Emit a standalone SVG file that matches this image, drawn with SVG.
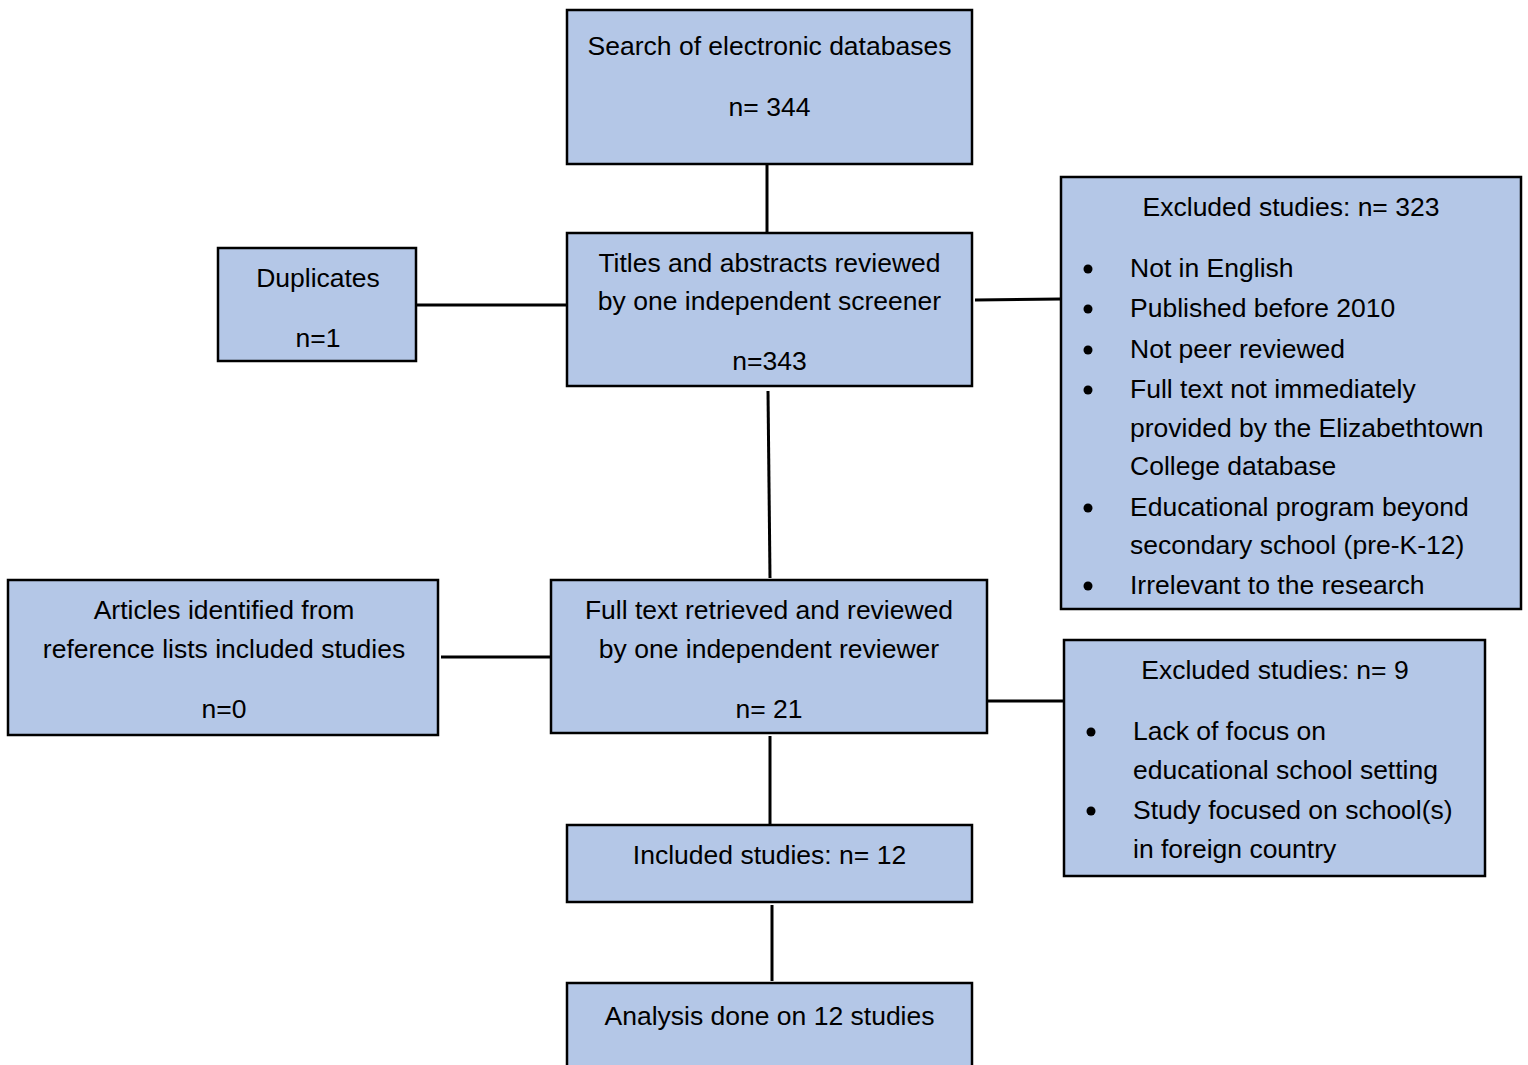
<svg xmlns="http://www.w3.org/2000/svg" width="1528" height="1065" viewBox="0 0 1528 1065">
<style>
.box{fill:#B4C7E7;stroke:#000;stroke-width:2.5}
.t{font-family:"Liberation Sans",Arial,sans-serif;font-size:26.5px;fill:#000}
.c{text-anchor:middle}
.line{stroke:#000;stroke-width:3;fill:none}
.b{fill:#000}
</style>
<rect width="1528" height="1065" fill="#fff"/>
<g id="connectors">
<line class="line" x1="767" y1="160" x2="767" y2="232"/>
<line class="line" x1="416" y1="305" x2="567" y2="305"/>
<line class="line" x1="975" y1="300" x2="1061" y2="299"/>
<line class="line" x1="768" y1="391" x2="770" y2="578"/>
<line class="line" x1="441" y1="657" x2="551" y2="657"/>
<line class="line" x1="987" y1="701" x2="1064" y2="701"/>
<line class="line" x1="770" y1="736" x2="770" y2="825"/>
<line class="line" x1="772" y1="905" x2="772" y2="981"/>
</g>
<g id="search">
<rect class="box" x="567" y="10" width="405" height="154"/>
<text class="t c" x="769.5" y="55">Search of electronic databases</text>
<text class="t c" x="769.5" y="116">n= 344</text>
</g>
<g id="titles">
<rect class="box" x="567" y="233" width="405" height="153"/>
<text class="t c" x="769.5" y="272">Titles and abstracts reviewed</text>
<text class="t c" x="769.5" y="310">by one independent screener</text>
<text class="t c" x="769.5" y="370">n=343</text>
</g>
<g id="duplicates">
<rect class="box" x="218" y="248" width="198" height="113"/>
<text class="t c" x="318" y="287">Duplicates</text>
<text class="t c" x="318" y="347">n=1</text>
</g>
<g id="excluded1">
<rect class="box" x="1061" y="177" width="460" height="432"/>
<text class="t c" x="1291" y="216">Excluded studies: n= 323</text>
<circle class="b" cx="1088" cy="269" r="4.5"/>
<text class="t" x="1130" y="277">Not in English</text>
<circle class="b" cx="1088" cy="309" r="4.5"/>
<text class="t" x="1130" y="317">Published before 2010</text>
<circle class="b" cx="1088" cy="350" r="4.5"/>
<text class="t" x="1130" y="358">Not peer reviewed</text>
<circle class="b" cx="1088" cy="390" r="4.5"/>
<text class="t" x="1130" y="398">Full text not immediately</text>
<text class="t" x="1130" y="437">provided by the Elizabethtown</text>
<text class="t" x="1130" y="475">College database</text>
<circle class="b" cx="1088" cy="508" r="4.5"/>
<text class="t" x="1130" y="516">Educational program beyond</text>
<text class="t" x="1130" y="554">secondary school (pre-K-12)</text>
<circle class="b" cx="1088" cy="586" r="4.5"/>
<text class="t" x="1130" y="594">Irrelevant to the research</text>
</g>
<g id="articles">
<rect class="box" x="8" y="580" width="430" height="155"/>
<text class="t c" x="224" y="619">Articles identified from</text>
<text class="t c" x="224" y="658">reference lists included studies</text>
<text class="t c" x="224" y="718">n=0</text>
</g>
<g id="fulltext">
<rect class="box" x="551" y="580" width="436" height="153"/>
<text class="t c" x="769" y="619">Full text retrieved and reviewed</text>
<text class="t c" x="769" y="658">by one independent reviewer</text>
<text class="t c" x="769" y="718">n= 21</text>
</g>
<g id="excluded2">
<rect class="box" x="1064" y="640" width="421" height="236"/>
<text class="t c" x="1275" y="679">Excluded studies: n= 9</text>
<circle class="b" cx="1091" cy="732" r="4.5"/>
<text class="t" x="1133" y="740">Lack of focus on</text>
<text class="t" x="1133" y="779">educational school setting</text>
<circle class="b" cx="1091" cy="811" r="4.5"/>
<text class="t" x="1133" y="819">Study focused on school(s)</text>
<text class="t" x="1133" y="858">in foreign country</text>
</g>
<g id="included">
<rect class="box" x="567" y="825" width="405" height="77"/>
<text class="t c" x="769.5" y="864">Included studies: n= 12</text>
</g>
<g id="analysis">
<rect class="box" x="567" y="983" width="405" height="100"/>
<text class="t c" x="769.5" y="1025">Analysis done on 12 studies</text>
</g>
</svg>
